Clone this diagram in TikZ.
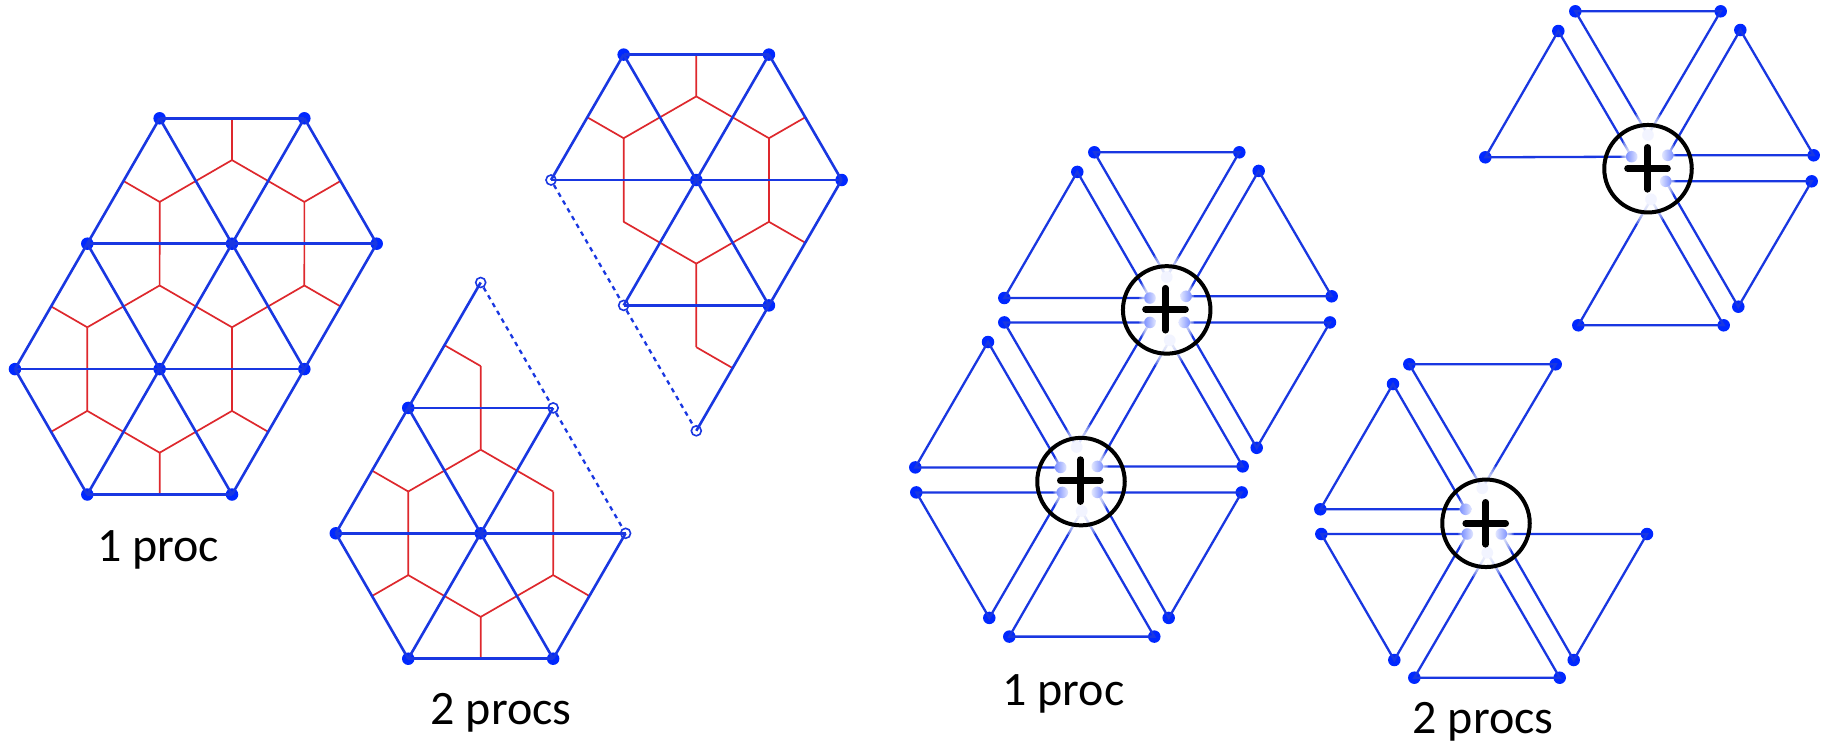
\documentclass[tikz,border=0pt]{standalone}
\usepackage{fontspec}
\setmainfont{Carlito}
\definecolor{meshblue}{RGB}{25,55,225}
\definecolor{dotblue}{RGB}{0,40,255}
\definecolor{meshred}{RGB}{222,40,45}
\tikzset{
  vx/.style={circle,fill=dotblue,inner sep=0pt,minimum size=12.5pt},
  hollow/.style={circle,draw=meshblue,line width=1.6pt,fill=none,inner sep=0pt,minimum size=10pt},
  edge/.style={draw=meshblue,line width=2.6pt},
  thinedge/.style={draw=meshblue,line width=2.3pt},
  dashedge/.style={draw=meshblue,line width=2.3pt,dash pattern=on 4.5pt off 4.5pt},
  dual/.style={draw=meshred,line width=1.7pt},
  paleL/.style={circle,inner sep=0pt,minimum size=11.5pt,left color=dotblue!50!white,right color=dotblue!12!white},
  paleR/.style={circle,inner sep=0pt,minimum size=11.5pt,left color=dotblue!12!white,right color=dotblue!50!white},
  paleV/.style={circle,inner sep=0pt,minimum size=11.5pt,fill=dotblue!5!white},
  ring/.style={circle,draw=black,line width=4pt,fill=none,inner sep=0pt,minimum size=87.5pt},
  plusbar/.style={draw=black,line width=6.6pt,line cap=round},
  lab/.style={font=\fontsize{48}{52}\selectfont,anchor=base,inner sep=0pt},
}
\newcommand{\tria}[7]{%
  \node[#2] (#1a) at #3 {};
  \node[#4] (#1b) at #5 {};
  \node[#6] (#1c) at #7 {};
  \draw[thinedge] (#1a.center) -- (#1b.center) -- (#1c.center) -- cycle;
}
\newcommand{\veil}[1]{\foreach \k in {0,...,9}
  \fill[white,opacity=.25] #1 ellipse [x radius=28pt-1.4pt*\k,y radius=60pt-3.2pt*\k];}
\begin{document}
\begin{tikzpicture}[x=1pt,y=-1pt]
\useasboundingbox (0,0) rectangle (1823,742);
\fill[white] (0,0) rectangle (1823,742);

% ---------- mesh 1
\begin{scope}[shift={(232,243.7)},x={(144.7pt,0pt)},y={(72.35pt,-125.4pt)}]
\foreach \n/\pa/\pb in {t1/0.3333/-0.6667,t2/-0.3333/-0.3333,t3/0.6667/-0.3333,t4/-0.6667/0.3333,t5/0.3333/0.3333,t6/-0.3333/0.6667,t7/-1.3333/0.6667,t8/-1.6667/1.3333,t9/-1.3333/1.6667,t10/-0.6667/1.3333,
  e1/0.5/-1,e2/-0.5/-0.5,e3/1/-0.5,e4/0.5/0.5,e5/-1.5/0.5,e6/-2/1.5,e7/-1.5/2,e8/-0.5/1.5}
  \coordinate (A\n) at (\pa,\pb);
\foreach \a/\b in {t1/t2,t1/t3,t1/e1,t2/e2,t2/t4,t3/t5,t3/e3,t4/t6,t4/t7,t5/t6,t5/e4,t6/t10,t7/e5,t7/t8,t8/e6,t8/t9,t9/t10,t9/e7,t10/e8}
  \draw[dual] (A\a) -- (A\b);
\foreach \n/\pa/\pb in {a/0/-1,b/1/-1,c/-1/0,d/0/0,e/1/0,f/-2/1,g/-1/1,h/0/1,i/-2/2,j/-1/2}
  \node[vx] (A\n) at (\pa,\pb) {};
\foreach \a/\b in {a/b,b/e,e/h,h/j,j/i,i/f,f/c,c/a,a/d,b/d,c/d,d/e,c/g,d/g,d/h,f/g,g/h,g/i,g/j}
  \draw[edge] (A\a.center) -- (A\b.center);
\end{scope}

% ---------- mesh 2
\begin{scope}[shift={(480.7,533.3)},x={(144.9pt,0pt)},y={(72.45pt,-125.4pt)}]
\foreach \n/\pa/\pb in {t1/0.6667/-1.3333,t2/0.3333/-0.6667,t3/-0.3333/-0.3333,t4/-0.6667/0.3333,t5/-0.3333/0.6667,t6/0.3333/0.3333,t7/0.6667/-0.3333,
  e1/0.5/-1.5,e2/-0.5/-0.5,e3/-1/0.5,e4/-0.5/1,e5/0.5/0.5,e6/0.5/-1}
  \coordinate (B\n) at (\pa,\pb);
\foreach \a/\b in {t1/e1,t1/e6,e6/t2,t2/t3,t2/t7,t3/e2,t3/t4,t4/e3,t4/t5,t5/e4,t5/t6,t6/e5,t6/t7}
  \draw[dual] (B\a) -- (B\b);
\node[hollow] (Ba) at (1,-2) {};
\node[vx] (Bb) at (0,-1) {};
\node[hollow] (Bc) at (1,-1) {};
\node[vx] (Bd) at (-1,0) {};
\node[vx] (Be) at (0,0) {};
\node[hollow] (Bf) at (1,0) {};
\node[vx] (Bg) at (-1,1) {};
\node[vx] (Bh) at (0,1) {};
\foreach \a/\b in {a/b,b/d,d/g,g/h,h/f,b/c,b/e,c/e,d/e,e/f,e/g,e/h}
  \draw[edge] (B\a.center) -- (B\b.center);
\draw[dashedge] (Ba) -- (Bc);
\draw[dashedge] (Bc) -- (Bf);
\end{scope}

% ---------- mesh 3
\begin{scope}[shift={(696.3,180)},x={(145.3pt,0pt)},y={(72.65pt,-125.4pt)}]
\foreach \n/\pa/\pb in {t1/0.3333/-0.6667,t2/-0.3333/-0.3333,t3/0.6667/-0.3333,t4/-0.6667/0.3333,t5/0.3333/0.3333,t6/-0.3333/0.6667,t7/-0.6667/1.3333,
  e1/0.5/-1,e2/-0.5/-0.5,e3/1/-0.5,e4/0.5/0.5,e5/-0.5/1.5}
  \coordinate (C\n) at (\pa,\pb);
\foreach \a/\b in {t1/t2,t1/t3,t1/e1,t2/e2,t2/t4,t3/t5,t3/e3,t4/t6,t5/t6,t5/e4,t6/t7,t7/e5}
  \draw[dual] (C\a) -- (C\b);
\node[vx] (Ca) at (0,-1) {};
\node[vx] (Cb) at (1,-1) {};
\node[hollow] (Cc) at (-1,0) {};
\node[vx] (Cd) at (0,0) {};
\node[vx] (Ce) at (1,0) {};
\node[hollow] (Cf) at (-1,1) {};
\node[vx] (Cg) at (0,1) {};
\node[hollow] (Ch) at (-1,2) {};
\foreach \a/\b in {a/b,b/e,e/g,g/h,a/c,c/d,d/e,a/d,b/d,d/f,d/g,f/g}
  \draw[edge] (C\a.center) -- (C\b.center);
\draw[dashedge] (Cc) -- (Cf);
\draw[dashedge] (Cf) -- (Ch);
\end{scope}

% ---------- exploded pair, left
\tria{Da}{vx}{(1094.3,152.3)}{vx}{(1239.3,152.3)}{paleV}{(1166.7,277)}
\tria{Db}{vx}{(1077.3,171.9)}{vx}{(1004.3,298)}{paleL}{(1150,298)}
\tria{Dc}{vx}{(1258.7,170.9)}{vx}{(1331.7,296.3)}{paleR}{(1186,296.3)}
\tria{Dd}{vx}{(1004.3,322.4)}{paleL}{(1150,322.4)}{paleV}{(1076.7,447)}
\tria{De}{paleV}{(1169.7,340.3)}{paleR}{(1097.3,466.4)}{vx}{(1242.7,466.4)}
\tria{Df}{paleR}{(1184.3,322.4)}{vx}{(1330,322.4)}{vx}{(1256.7,447.8)}
\tria{Dg}{vx}{(988,342)}{vx}{(915.3,467.4)}{paleL}{(1060.7,467.4)}
\tria{Dh}{paleR}{(1097.3,492.4)}{vx}{(1241.7,492.4)}{vx}{(1168.7,617.9)}
\tria{Di}{vx}{(916.3,492.4)}{paleL}{(1062.3,492.4)}{vx}{(989.3,617.9)}
\tria{Dj}{paleV}{(1081.7,511)}{vx}{(1009.3,636.6)}{vx}{(1154.3,636.6)}
\veil{(1166.7,309.9)}
\veil{(1081,481.6)}
\foreach \n/\s in {Dac/paleV,Dbc/paleL,Dcc/paleR,Ddb/paleL,Ddc/paleV,Dea/paleV,Deb/paleR,Dfa/paleR,Dgc/paleL,Dha/paleR,Dib/paleL,Dja/paleV}
  \node[\s] at (\n) {};

% ---------- exploded, top right
\tria{Ea}{vx}{(1575.3,11.3)}{vx}{(1720.7,11.3)}{paleV}{(1648,135)}
\tria{Eb}{vx}{(1558.3,31)}{vx}{(1485.3,157.3)}{paleL}{(1631.7,156.7)}
\tria{Ec}{vx}{(1740.3,30)}{vx}{(1813.7,155.3)}{paleR}{(1667.7,155.3)}
\tria{Ed}{paleR}{(1665.7,181.3)}{vx}{(1811.7,181.3)}{vx}{(1738.3,306.7)}
\tria{Ee}{paleV}{(1651,199.3)}{vx}{(1578.3,325.3)}{vx}{(1723.7,325.3)}
\veil{(1648,168.7)}
\foreach \n/\s in {Eac/paleV,Ebc/paleL,Ecc/paleR,Eda/paleR,Eea/paleV}
  \node[\s] at (\n) {};

% ---------- exploded, lower right
\tria{Fa}{vx}{(1409.3,364.3)}{vx}{(1555.7,364.3)}{paleV}{(1482.3,488.3)}
\tria{Fb}{vx}{(1393,384)}{vx}{(1320.3,509.3)}{paleL}{(1465.7,509.3)}
\tria{Fc}{vx}{(1321.3,534)}{paleL}{(1467.3,534)}{vx}{(1394.3,660)}
\tria{Fd}{paleR}{(1501.3,534)}{vx}{(1647,534)}{vx}{(1573.7,660)}
\tria{Fe}{paleV}{(1487.3,552.7)}{vx}{(1414.3,677.7)}{vx}{(1559.7,677.7)}
\veil{(1486,523.3)}
\foreach \n/\s in {Fac/paleV,Fbc/paleL,Fcb/paleL,Fda/paleR,Fea/paleV}
  \node[\s] at (\n) {};

% ---------- rings with plus signs
\foreach \n/\cx/\cy/\px/\py in {R1/1166.7/309.9/1165.5/309.2,R2/1081/481.6/1080.3/480.6,R3/1648/168.7/1647.5/168.3,R4/1486/523.3/1485.7/523.3}{
  \node[ring] (\n) at (\cx,\cy) {};
  \coordinate (\n l) at (\px-20,\py);
  \coordinate (\n r) at (\px+20,\py);
  \coordinate (\n t) at (\px,\py-21);
  \coordinate (\n b) at (\px,\py+21);
  \draw[plusbar] (\n l) -- (\n r);
  \draw[plusbar] (\n t) -- (\n b);
}

% ---------- labels
\node[lab] (L1) at (158,561) {1 proc};
\node[lab] (L2) at (501,724) {2 procs};
\node[lab] (L3) at (1063.5,705) {1 proc};
\node[lab] (L4) at (1483,733) {2 procs};
\end{tikzpicture}
\end{document}
